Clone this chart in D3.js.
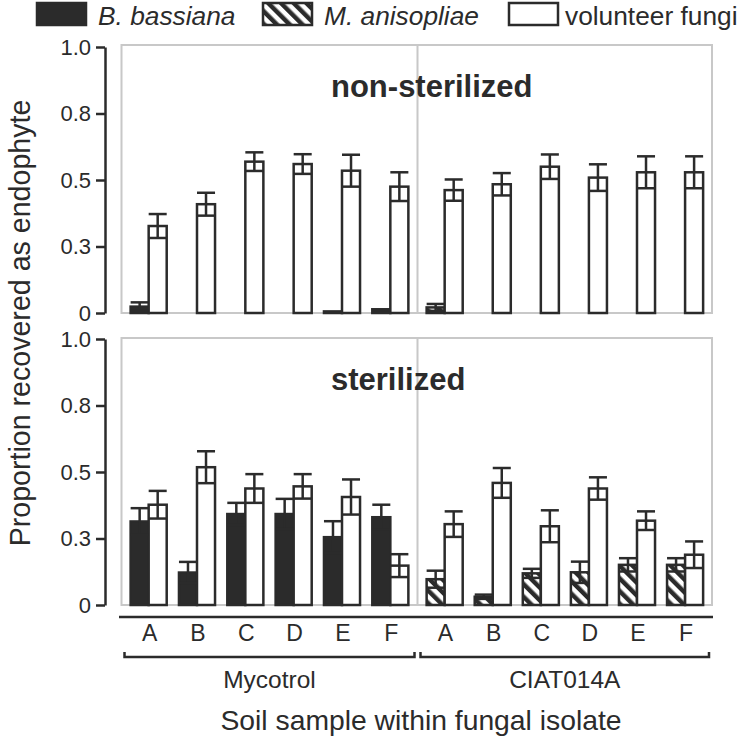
<!DOCTYPE html>
<meta charset="utf-8">
<style>
body { margin: 0; background: #fff; }
text { font-family: "Liberation Sans", Arial, sans-serif; fill: #2b2b2b; }
</style>
<svg width="741" height="743"></svg>
<script src="https://d3js.org/d3.v7.min.js"></script>
<script>

// data
var samples = ["A", "B", "C", "D", "E", "F"];
var isolates = ["Mycotrol", "CIAT014A"];
var yTicks = [0, 0.25, 0.5, 0.75, 1];
var yTickLabels = ["0", "0.3", "0.5", "0.8", "1.0"];

// non-sterilized soil
var nsMycEnt = [0.024, 0, 0, 0, 0.006, 0.014];
var nsMycEntSe = [0.016, 0, 0, 0, 0, 0];
var nsMycVol = [0.327, 0.409, 0.569, 0.560, 0.535, 0.475];
var nsMycVolSe = [0.045, 0.043, 0.035, 0.037, 0.060, 0.054];
var nsCiatEnt = [0.021, 0, 0, 0, 0, 0];
var nsCiatEntSe = [0.013, 0, 0, 0, 0, 0];
var nsCiatVol = [0.462, 0.484, 0.550, 0.509, 0.529, 0.529];
var nsCiatVolSe = [0.040, 0.042, 0.046, 0.050, 0.060, 0.060];

// sterilized soil
var stMycEnt = [0.314, 0.122, 0.342, 0.342, 0.255, 0.330];
var stMycEntSe = [0.050, 0.040, 0.042, 0.057, 0.060, 0.047];
var stMycVol = [0.377, 0.518, 0.438, 0.446, 0.406, 0.148];
var stMycVolSe = [0.052, 0.060, 0.054, 0.046, 0.066, 0.043];
var stCiatEnt = [0.097, 0.031, 0.119, 0.123, 0.151, 0.151];
var stCiatEntSe = [0.032, 0.008, 0.017, 0.040, 0.025, 0.025];
var stCiatVol = [0.304, 0.459, 0.296, 0.438, 0.317, 0.189];
var stCiatVolSe = [0.048, 0.056, 0.060, 0.042, 0.035, 0.050];

var dark = "#2b2b2b";
var svg = d3.select("svg");

var defs = svg.append("defs");
defs.append("pattern")
    .attr("id", "hatch")
    .attr("patternUnits", "userSpaceOnUse")
    .attr("width", 9).attr("height", 9)
    .attr("patternTransform", "rotate(-45)")
  .append("rect")
    .attr("width", 4.5).attr("height", 9)
    .attr("fill", dark);

var boxLeft = 121.5, boxMid = 417.5, boxRight = 712;

// one band scale per isolate half
var xHalf = [
  d3.scaleBand().domain(samples).range([boxLeft + 3, boxMid - 3]),
  d3.scaleBand().domain(samples).range([boxMid + 3, boxRight - 3])
];
var xInner = d3.scaleBand().domain(["ent", "vol"])
    .range([0, xHalf[0].bandwidth()]).paddingOuter(0.34).paddingInner(0);

var panels = [
  { title: "non-sterilized", titleY: 97, top: 45, y: d3.scaleLinear().domain([0, 1]).range([313, 47]),
    halves: [[nsMycEnt, nsMycEntSe, nsMycVol, nsMycVolSe], [nsCiatEnt, nsCiatEntSe, nsCiatVol, nsCiatVolSe]] },
  { title: "sterilized", titleY: 390, top: 338, y: d3.scaleLinear().domain([0, 1]).range([605, 339]),
    halves: [[stMycEnt, stMycEntSe, stMycVol, stMycVolSe], [stCiatEnt, stCiatEntSe, stCiatVol, stCiatVolSe]] }
];

// which fill each half uses for the entomopathogen bar
var entFill = [dark, "url(#hatch)"];

panels.forEach(function(p) {
  var g = svg.append("g");
  var y = p.y;

  g.append("rect")
      .attr("x", boxLeft).attr("y", p.top)
      .attr("width", boxRight - boxLeft).attr("height", y(0) - p.top)
      .attr("fill", "none").attr("stroke", "#c8c8c8").attr("stroke-width", 2);
  g.append("line")
      .attr("x1", boxMid).attr("x2", boxMid).attr("y1", p.top).attr("y2", y(0))
      .attr("stroke", "#c8c8c8").attr("stroke-width", 2);

  p.halves.forEach(function(h, hi) {
    var x = xHalf[hi];
    var rows = samples.map(function(s, i) {
      return [
        { s: s, key: "ent", v: h[0][i], se: h[1][i], fill: entFill[hi] },
        { s: s, key: "vol", v: h[2][i], se: h[3][i], fill: "#fff" }
      ];
    });
    var bars = d3.merge(rows);

    g.selectAll(null)
      .data(bars).enter().append("rect")
        .attr("x", function(d) { return x(d.s) + xInner(d.key); })
        .attr("y", function(d) { return y(d.v); })
        .attr("width", xInner.bandwidth())
        .attr("height", function(d) { return y(0) - y(d.v); })
        .attr("fill", function(d) { return d.fill; })
        .attr("stroke", dark).attr("stroke-width", 2.5);

    var eb = g.selectAll(null)
      .data(bars.filter(function(d) { return d.se > 0; })).enter().append("g")
        .attr("transform", function(d) { return "translate(" + (x(d.s) + xInner(d.key) + xInner.bandwidth() / 2) + ",0)"; })
        .attr("stroke", dark).attr("stroke-width", 2.5);
    eb.append("line")
        .attr("y1", function(d) { return y(d.v + d.se); })
        .attr("y2", function(d) { return y(Math.max(0, d.v - d.se)); });
    eb.append("line")
        .attr("x1", -xInner.bandwidth() / 2).attr("x2", xInner.bandwidth() / 2)
        .attr("y1", function(d) { return y(d.v + d.se); })
        .attr("y2", function(d) { return y(d.v + d.se); });
    eb.append("line")
        .attr("x1", -xInner.bandwidth() / 2).attr("x2", xInner.bandwidth() / 2)
        .attr("y1", function(d) { return y(Math.max(0, d.v - d.se)); })
        .attr("y2", function(d) { return y(Math.max(0, d.v - d.se)); });
  });

  // y axis: minor ticks then major ticks with labels
  var minor = d3.range(0, 1.001, 0.125);
  var ax = svg.append("g").attr("transform", "translate(105,0)");
  ax.call(d3.axisLeft(y).tickValues(minor).tickSize(9).tickSizeOuter(0).tickFormat(""));
  ax.call(d3.axisLeft(y).tickValues(yTicks).tickSize(9).tickSizeOuter(0).tickPadding(5)
      .tickFormat(function(d, i) { return yTickLabels[i]; }));
  ax.selectAll("path, line").attr("stroke", dark).attr("stroke-width", 2.5);
  ax.selectAll("text").attr("font-size", 22).attr("font-family", "Liberation Sans, Arial, sans-serif")
      .attr("fill", dark);

  svg.append("text")
      .attr("x", 331).attr("y", p.titleY)
      .attr("font-size", 31).attr("font-weight", "bold")
      .text(p.title);
});

// x axis line under the lower panel
svg.append("line")
    .attr("x1", 119).attr("x2", 713).attr("y1", 617).attr("y2", 617)
    .attr("stroke", dark).attr("stroke-width", 2.5);

xHalf.forEach(function(x, hi) {
  svg.append("g").selectAll("text")
    .data(samples).enter().append("text")
      .attr("x", function(d) { return x(d) + x.bandwidth() / 2 + 1; })
      .attr("y", 641)
      .attr("text-anchor", "middle")
      .attr("font-size", 23)
      .text(function(d) { return d; });

  var r = x.range();
  var x0 = r[0], x1 = r[1];
  svg.append("path")
      .attr("d", "M" + x0 + ",652V657H" + x1 + "V652")
      .attr("fill", "none").attr("stroke", dark).attr("stroke-width", 2.5);
  svg.append("text")
      .attr("x", (x0 + x1) / 2).attr("y", 688)
      .attr("text-anchor", "middle").attr("font-size", 24.5)
      .text(isolates[hi]);
});

svg.append("text")
    .attr("x", 421).attr("y", 730)
    .attr("text-anchor", "middle").attr("font-size", 28.3)
    .text("Soil sample within fungal isolate");

svg.append("text")
    .attr("transform", "translate(30,323) rotate(-90)")
    .attr("text-anchor", "middle").attr("font-size", 28.6)
    .text("Proportion recovered as endophyte");

// legend
var legend = [
  { label: "B. bassiana", fill: dark, italic: true, x: 36 },
  { label: "M. anisopliae", fill: "url(#hatch)", italic: true, x: 262 },
  { label: "volunteer fungi", fill: "#fff", italic: false, x: 508 }
];
var lg = svg.append("g").selectAll("g").data(legend).enter().append("g")
    .attr("transform", function(d) { return "translate(" + d.x + ",0)"; });
lg.append("rect")
    .attr("x", 1).attr("y", 3).attr("width", 49).attr("height", 22)
    .attr("fill", function(d) { return d.fill; })
    .attr("stroke", dark).attr("stroke-width", 2.5);
lg.append("text")
    .attr("x", function(d, i) { return i === 2 ? 57 : 62; })
    .attr("y", 25)
    .attr("font-size", 26.3)
    .attr("font-style", function(d) { return d.italic ? "italic" : "normal"; })
    .text(function(d) { return d.label; });

</script>
